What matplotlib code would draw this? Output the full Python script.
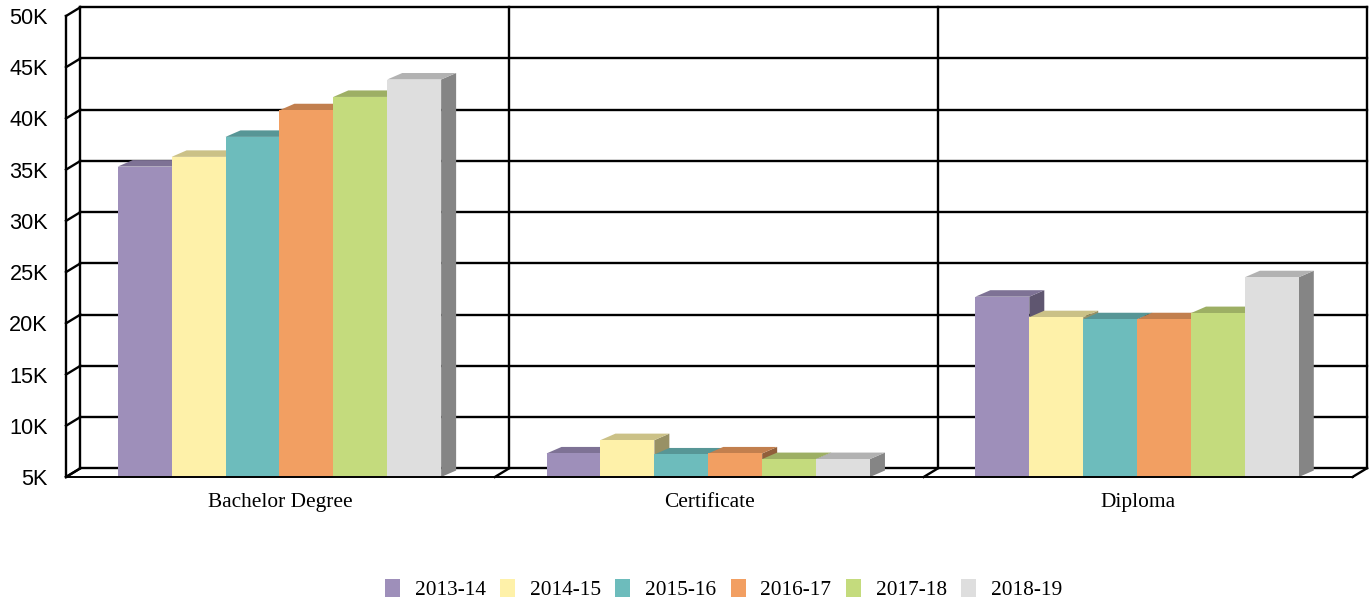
import matplotlib
matplotlib.use("Agg")
import matplotlib.pyplot as plt
from matplotlib.patches import Polygon, Patch
from matplotlib.colors import to_rgb
from matplotlib.ticker import FuncFormatter

categories = ["Bachelor Degree", "Certificate", "Diploma"]
years = ["2013-14", "2014-15", "2015-16", "2016-17", "2017-18", "2018-19"]
v_2013 = [35.3, 7.3, 22.6]
v_2014 = [36.25, 8.6, 20.6]
v_2015 = [38.2, 7.2, 20.4]
v_2016 = [40.8, 7.3, 20.4]
v_2017 = [42.1, 6.75, 21.0]
v_2018 = [43.8, 6.75, 24.5]
series = [v_2013, v_2014, v_2015, v_2016, v_2017, v_2018]
colors = ["#9E8FBA", "#FEF1A9", "#6DBCBC", "#F29F62", "#C4DB7D", "#DEDEDE"]
y_ticks = [5, 10, 15, 20, 25, 30, 35, 40, 45, 50]

W, H = 1370, 602
L, R, B, T = 66, 1352.5, 477, 16
fig = plt.figure(figsize=(W / 100, H / 100), dpi=100, facecolor="white")
ax = fig.add_axes([L / W, 1 - B / H, (R - L) / W, (B - T) / H])
ax.set_xlim(-0.5, 2.5)
ax.set_ylim(5, 50)
for s in ax.spines.values():
    s.set_visible(False)

px_x = 3 / (R - L)          # data units per pixel
px_y = 45 / (B - T)
wall_dx, wall_dy = 14.5 * px_x, 8.8 * px_y
bar_dx, bar_dy = 15 * px_x, 6.5 * px_y
bar_w = 53.9 * px_x
lw = 1.7
line = dict(color="black", lw=lw, zorder=1, clip_on=False, solid_capstyle="projecting")

x0, x1 = ax.get_xlim()
edges = [x0 + i for i in range(len(categories) + 1)]
for yv in y_ticks:
    ax.plot([x0 + wall_dx, x1 + wall_dx], [yv + wall_dy] * 2, **line)
    ax.plot([x0, x0 + wall_dx], [yv, yv + wall_dy], **line)
for e in edges:
    ax.plot([e + wall_dx] * 2, [5 + wall_dy, 50 + wall_dy], **line)
    ax.plot([e, e + wall_dx], [5, 5 + wall_dy], **line)
ax.plot([x0, x0], [5, 50], **line)
ax.plot([x0, x1], [5, 5], color="black", lw=1.4, zorder=30, clip_on=False)


def shade(c, f):
    return tuple(v * f for v in to_rgb(c))


for n, (vals, col) in enumerate(zip(series, colors)):
    z = 3 + n
    for c, v in enumerate(vals):
        left = c - 0.0023 + (n - 3) * bar_w
        right = left + bar_w
        ax.add_patch(Polygon(
            [(right, 5), (right + bar_dx, 5 + bar_dy), (right + bar_dx, v + bar_dy), (right, v)],
            closed=True, fc=shade(col, 0.6), ec="none", zorder=z, clip_on=False))
        ax.add_patch(Polygon(
            [(left, v), (left + bar_dx, v + bar_dy), (right + bar_dx, v + bar_dy), (right, v)],
            closed=True, fc=shade(col, 0.8), ec="none", zorder=z, clip_on=False))
    ax.bar([c - 0.0023 + (n - 2.5) * bar_w for c in range(len(vals))],
           [v - 5 for v in vals], bottom=5, width=bar_w, color=col, zorder=z + 0.5, lw=0)

ax.set_yticks(y_ticks)
ax.yaxis.set_major_formatter(FuncFormatter(lambda v, _: f"{int(v)}K"))
ax.set_xticks(range(len(categories)))
ax.set_xticklabels(categories, family="Liberation Serif", fontsize=15.4)
ax.tick_params(axis="x", length=0, pad=11.5)
ax.tick_params(axis="y", length=0, pad=13, labelsize=15.6)
for t in ax.get_yticklabels():
    t.set_family("Liberation Sans")
    t.set_y(t.get_position()[1])
    t.set_va("center_baseline")

handles = [Patch(fc=c, ec="none", label=y) for c, y in zip(colors, years)]
fig.legend(handles=handles, loc="center", bbox_to_anchor=(723.5 / W, 1 - 589.5 / H),
           ncol=6, frameon=False, prop={"family": "Liberation Serif", "size": 15.4},
           handlelength=0.70, handleheight=0.95, handletextpad=0.70,
           columnspacing=0.665, borderpad=0, borderaxespad=0)

fig.savefig("out.png", dpi=100)
